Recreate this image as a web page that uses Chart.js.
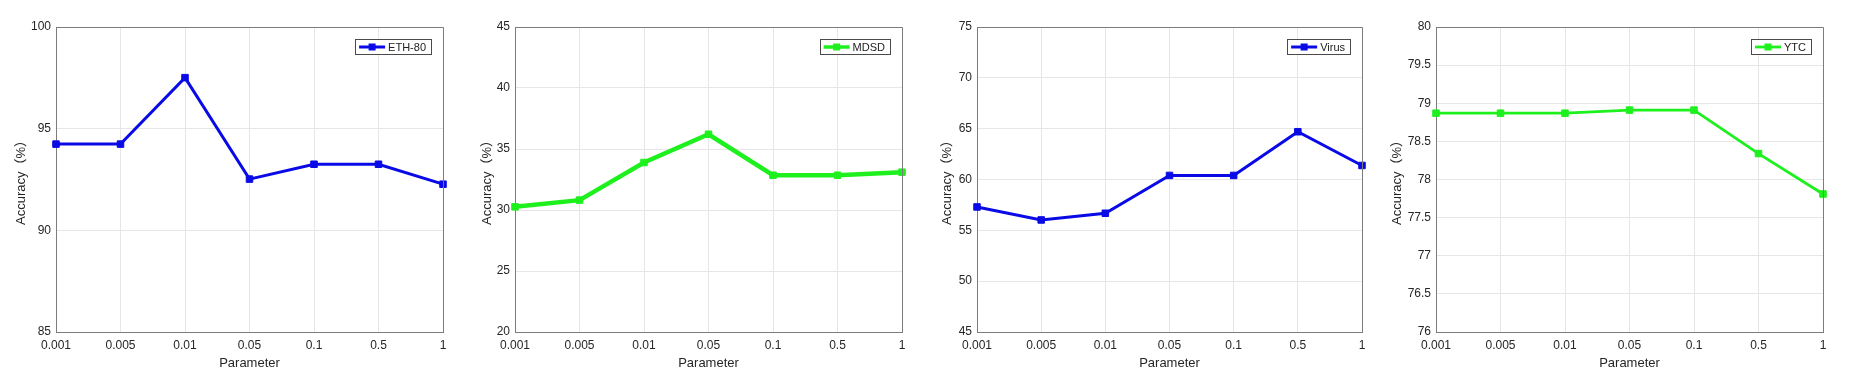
<!DOCTYPE html>
<html>
<head>
<meta charset="utf-8">
<script src="https://cdn.jsdelivr.net/npm/chart.js@4.4.0/dist/chart.umd.min.js"></script>
<style>
  html, body { margin: 0; padding: 0; background: #ffffff; }
  body { width: 1867px; height: 374px; position: relative; overflow: hidden; }
  .panel { position: absolute; top: 0; }
</style>
</head>
<body>
<div class="panel" id="p0"><canvas id="c0"></canvas></div>
<div class="panel" id="p1"><canvas id="c1"></canvas></div>
<div class="panel" id="p2"><canvas id="c2"></canvas></div>
<div class="panel" id="p3"><canvas id="c3"></canvas></div>
<script>
// ---- data ----
const categories = ['0.001', '0.005', '0.01', '0.05', '0.1', '0.5', '1'];
const eth80Values = [94.24, 94.24, 97.51, 92.52, 93.25, 93.25, 92.27];
const mdsdValues  = [30.26, 30.81, 33.89, 36.21, 32.85, 32.85, 33.10];
const virusValues = [57.30, 56.02, 56.68, 60.40, 60.40, 64.70, 61.38];
const ytcValues   = [78.87, 78.87, 78.87, 78.91, 78.91, 78.34, 77.81];
const seriesLabels = ['ETH-80', 'MDSD', 'Virus', 'YTC'];
const yMins  = [85, 20, 45, 76];
const yMaxs  = [100, 45, 75, 80];
const ySteps = [5, 5, 5, 0.5];
const xTitle = 'Parameter';
const yTitle = 'Accuracy\uFF08%\uFF09';

// ---- styling / layout ----
const BLUE = '#0a0ae6';
const GREEN = '#1ef01e';
const panels = [
  { values: eth80Values, color: BLUE,  lw: 3,   L: 56,   R: 443,  titleX: 21 },
  { values: mdsdValues,  color: GREEN, lw: 4.5, L: 515,  R: 902,  titleX: 487 },
  { values: virusValues, color: BLUE,  lw: 3,   L: 977,  R: 1362, titleX: 947 },
  { values: ytcValues,   color: GREEN, lw: 2.8, L: 1436, R: 1823, titleX: 1397 }
];
const H = 374, TOP = 27, BOTTOM = 332, YW = 50, PR = 14;
const FONT = '"Liberation Sans", Arial, "Noto Sans CJK SC", sans-serif';
const TEXT = '#262626';
const AXIS = '#7c7c7c';
const GRID = '#e6e6e6';
const TITLE_SIZE = 13, TICK_SIZE = 12;

const boxPlugin = {
  id: 'boxPlugin',
  afterDraw(chart) {
    const { ctx, chartArea: a } = chart;
    ctx.save();
    ctx.strokeStyle = AXIS;
    ctx.lineWidth = 1;
    ctx.beginPath();
    ctx.moveTo(Math.round(a.left) + 0.5, Math.round(a.top) + 0.5);
    ctx.lineTo(Math.round(a.right) + 0.5, Math.round(a.top) + 0.5);
    ctx.lineTo(Math.round(a.right) + 0.5, Math.round(a.bottom) + 0.5);
    ctx.stroke();
    ctx.restore();
  }
};

const legendPlugin = {
  id: 'boxLegend',
  afterDraw(chart) {
    const { ctx, chartArea: a } = chart;
    const ds = chart.data.datasets[0];
    ctx.save();
    ctx.font = '11px ' + FONT;
    const tw = ctx.measureText(ds.label).width;
    const h = 15, padL = 4, lineLen = 26, gap = 3, padR = 5;
    const w = padL + lineLen + gap + tw + padR;
    const right = Math.round(a.right) - 12;
    const x0 = right - w, y0 = Math.round(a.top) + 12;
    ctx.fillStyle = '#ffffff';
    ctx.fillRect(x0, y0, w, h);
    ctx.strokeStyle = '#4a4a4a';
    ctx.lineWidth = 1;
    ctx.strokeRect(Math.round(x0) + 0.5, y0 + 0.5, Math.round(w), h);
    const cy = y0 + h / 2 + 0.5;
    ctx.strokeStyle = ds.borderColor;
    ctx.lineWidth = Math.min(ds.borderWidth, 3.5);
    ctx.beginPath();
    ctx.moveTo(x0 + padL, cy);
    ctx.lineTo(x0 + padL + lineLen, cy);
    ctx.stroke();
    ctx.fillStyle = ds.borderColor;
    ctx.fillRect(x0 + padL + lineLen / 2 - 3.5, cy - 3.5, 7, 7);
    ctx.fillStyle = '#222';
    ctx.textBaseline = 'middle';
    ctx.textAlign = 'left';
    ctx.fillText(ds.label, x0 + padL + lineLen + gap, cy + 0.5);
    ctx.restore();
  }
};

panels.forEach((p, i) => {
  const left = p.L - YW;
  const width = YW + (p.R - p.L) + PR;
  const div = document.getElementById('p' + i);
  div.style.left = left + 'px';
  div.style.width = width + 'px';
  div.style.height = H + 'px';
  const canvas = document.getElementById('c' + i);
  canvas.width = width;
  canvas.height = H;
  canvas.style.width = width + 'px';
  canvas.style.height = H + 'px';
  const titleLH = TITLE_SIZE * 1.2;
  const yTitlePad = (p.titleX - left) - titleLH / 2;
  const xTitlePad = (H - 363) - titleLH / 2;

  new Chart(canvas, {
    type: 'line',
    data: {
      labels: categories,
      datasets: [{
        label: seriesLabels[i],
        data: p.values,
        borderColor: p.color,
        backgroundColor: p.color,
        borderWidth: p.lw,
        pointStyle: 'rect',
        pointRadius: 4.6,
        pointBorderWidth: 1,
        pointBackgroundColor: p.color,
        pointBorderColor: p.color,
        tension: 0,
        fill: false
      }]
    },
    options: {
      responsive: false,
      animation: false,
      devicePixelRatio: 1,
      layout: { padding: { left: 0, right: PR, top: TOP, bottom: 0 } },
      plugins: { legend: { display: false }, tooltip: { enabled: false } },
      scales: {
        x: {
          type: 'category',
          offset: false,
          grid: { color: GRID, drawTicks: false, lineWidth: 1 },
          border: { display: true, color: AXIS, width: 1 },
          ticks: {
            color: TEXT, padding: 6, maxRotation: 0, autoSkip: false,
            font: { family: FONT, size: TICK_SIZE }
          },
          title: {
            display: true, text: xTitle, color: TEXT,
            font: { family: FONT, size: TITLE_SIZE },
            padding: { top: 0, bottom: xTitlePad }
          },
          afterFit(scale) { scale.height = H - BOTTOM; }
        },
        y: {
          min: yMins[i], max: yMaxs[i],
          grid: { color: GRID, drawTicks: false, lineWidth: 1 },
          border: { display: true, color: AXIS, width: 1 },
          ticks: {
            stepSize: ySteps[i], color: TEXT, padding: 5,
            font: { family: FONT, size: TICK_SIZE },
            callback: (v) => String(Math.round(v * 100) / 100)
          },
          title: {
            display: true, text: yTitle, color: TEXT,
            font: { family: FONT, size: TITLE_SIZE },
            padding: { top: yTitlePad, bottom: 0 }
          },
          afterFit(scale) { scale.width = YW; }
        }
      }
    },
    plugins: [boxPlugin, legendPlugin]
  });
});
</script>
</body>
</html>
